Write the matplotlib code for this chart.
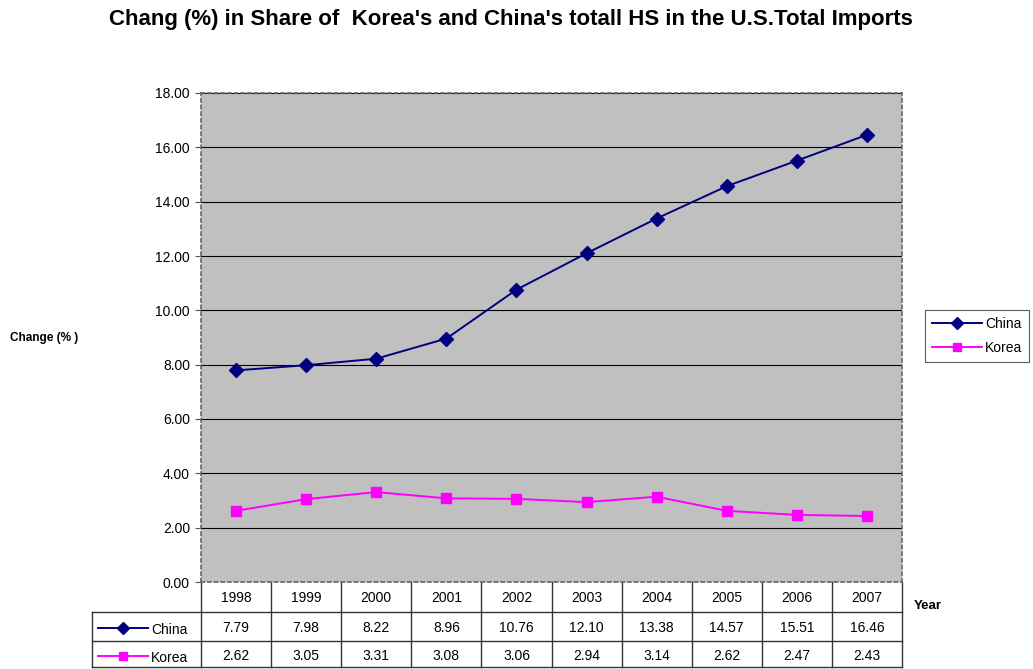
import numpy as np
import matplotlib.pyplot as plt
from matplotlib.lines import Line2D

plt.rcParams['font.family'] = ['Liberation Sans', 'DejaVu Sans']

years = ['1998', '1999', '2000', '2001', '2002', '2003', '2004', '2005', '2006', '2007']
china = [7.79, 7.98, 8.22, 8.96, 10.76, 12.10, 13.38, 14.57, 15.51, 16.46]
korea = [2.62, 3.05, 3.31, 3.08, 3.06, 2.94, 3.14, 2.62, 2.47, 2.43]
series = [('China', china, '#000080', 'D', 7), ('Korea', korea, '#FF00FF', 's', 7)]

W, H = 1033, 669
fig = plt.figure(figsize=(W / 100, H / 100), dpi=100)
ax_l, ax_r, ax_t, ax_b = 201, 902, 93, 582
ax = fig.add_axes([ax_l / W, 1 - ax_b / H, (ax_r - ax_l) / W, (ax_b - ax_t) / H])
ax.set_facecolor('#C0C0C0')

n = len(years)
x = np.arange(n) + 0.5
for name, vals, col, mk, ms in series:
    ax.plot(x, vals, color=col, marker=mk, markersize=ms, lw=1.4, label=name)

ax.set_xlim(0, n)
ax.set_ylim(0, 18)
ax.set_yticks(np.arange(0, 18.1, 2))
ax.set_yticklabels([f'{v:.2f}' for v in np.arange(0, 18.1, 2)], fontsize=10)
ax.set_xticks([])
ax.yaxis.grid(True, color='black', lw=0.8)
ax.set_axisbelow(True)
ax.tick_params(axis='y', length=4, width=0.8, color='#555555', pad=4)
for s in ax.spines.values():
    s.set_linestyle((0, (2, 2)))
    s.set_color('#666666')
    s.set_linewidth(1.2)

# data table beneath the axes
ph = ax_b - ax_t
def ay(py):
    return (ax_b - py) / ph

x_lab = (92 - ax_l) / (ax_r - ax_l)
row_y = [582, 612, 641, 667]
kw = dict(transform=ax.transAxes, clip_on=False, color='#333333', lw=1.0)
for yy in row_y[1:]:
    ax.plot([x_lab, 1], [ay(yy), ay(yy)], **kw)
ax.plot([x_lab, x_lab], [ay(612), ay(667)], **kw)
for i in range(n + 1):
    ax.plot([i / n, i / n], [ay(582), ay(667)], **kw)

for i, yr in enumerate(years):
    ax.text((i + 0.5) / n, ay(598), yr, transform=ax.transAxes, ha='center', va='center', fontsize=10)
for r, (name, vals, col, mk, ms) in enumerate(series):
    yc = ay(628 + r * 28)
    for i, v in enumerate(vals):
        ax.text((i + 0.5) / n, yc, f'{v:.2f}', transform=ax.transAxes, ha='center', va='center', fontsize=10)
    xl0 = (98 - ax_l) / (ax_r - ax_l)
    xl1 = (148 - ax_l) / (ax_r - ax_l)
    ax.plot([xl0, xl1], [yc, yc], color=col, lw=1.4, transform=ax.transAxes, clip_on=False)
    ax.plot([(xl0 + xl1) / 2], [yc], color=col, marker=mk, markersize=ms - 1, transform=ax.transAxes, clip_on=False)
    ax.text((151 - ax_l) / (ax_r - ax_l), yc - 0.004, name, transform=ax.transAxes, ha='left', va='center', fontsize=10)

fig.text(511 / W, 1 - 19 / H, "Chang (%) in Share of  Korea's and China's totall HS in the U.S.Total Imports",
         ha='center', va='center', fontsize=16, fontweight='bold')
fig.text(10 / W, 1 - 338 / H, 'Change (% )', ha='left', va='center', fontsize=8.5, fontweight='bold')
fig.text(914 / W, 1 - 606 / H, 'Year', ha='left', va='center', fontsize=9.5, fontweight='bold')

handles = [Line2D([], [], color=c, marker=m, markersize=ms - 1, lw=1.4) for _, _, c, m, ms in series]
leg = fig.legend(handles, [s[0] for s in series], loc='center', bbox_to_anchor=(977 / W, 1 - 336 / H),
                 fontsize=10, frameon=True, fancybox=False, edgecolor='#333333', borderpad=0.5,
                 handlelength=3.6, handletextpad=0.2, labelspacing=0.7)
leg.get_frame().set_linewidth(0.8)

fig.savefig('out.png', dpi=100)
